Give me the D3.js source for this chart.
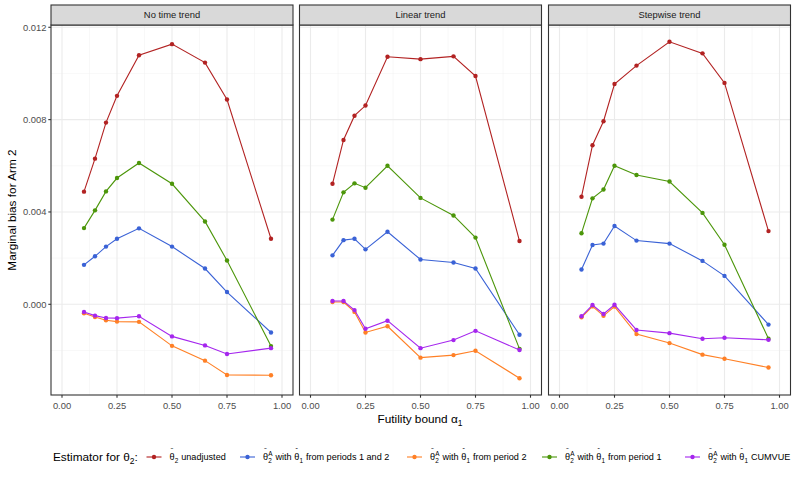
<!DOCTYPE html>
<html>
<head>
<meta charset="utf-8">
<script src="https://cdn.jsdelivr.net/npm/d3@7"></script>
<style>
  body { margin: 0; background: #fff; }
  text { font-family: "Liberation Sans", Arial, sans-serif; white-space: pre; }
</style>
</head>
<body>
<div id="chart"></div>
<script>
var width = 797, height = 478

// data
var alphas = [0.1, 0.15, 0.2, 0.25, 0.35, 0.5, 0.65, 0.75, 0.95]
var panels = ["No time trend", "Linear trend", "Stepwise trend"]
var estimators = ["unadj", "p12", "p2", "p1", "cumvue"]
var colors = ["#B22222", "#3A62D6", "#FF8026", "#4C960A", "#A526EE"]

// bias values, one array per panel and estimator
var unadj_none   = [0.00488, 0.00631, 0.00787, 0.00903, 0.01079, 0.01127, 0.01047, 0.00887, 0.00284]
var p12_none     = [0.00171, 0.00208, 0.00250, 0.00284, 0.00329, 0.00250, 0.00155, 0.00053, -0.00122]
var p2_none      = [-0.00039, -0.00055, -0.00069, -0.00075, -0.00076, -0.00180, -0.00244, -0.00306, -0.00307]
var p1_none      = [0.00330, 0.00407, 0.00489, 0.00547, 0.00612, 0.00522, 0.00359, 0.00190, -0.00181]
var cumvue_none  = [-0.00033, -0.00049, -0.00059, -0.00060, -0.00052, -0.00139, -0.00178, -0.00215, -0.00190]

var unadj_lin    = [0.00522, 0.00712, 0.00817, 0.00861, 0.01072, 0.01062, 0.01074, 0.00989, 0.00274]
var p12_lin      = [0.00212, 0.00278, 0.00284, 0.00238, 0.00314, 0.00194, 0.00181, 0.00155, -0.00132]
var p2_lin       = [0.00010, 0.00010, -0.00033, -0.00122, -0.00095, -0.00231, -0.00220, -0.00201, -0.00320]
var p1_lin       = [0.00367, 0.00485, 0.00524, 0.00505, 0.00600, 0.00461, 0.00385, 0.00289, -0.00193]
var cumvue_lin   = [0.00014, 0.00014, -0.00025, -0.00106, -0.00071, -0.00190, -0.00155, -0.00115, -0.00198]

var unadj_step   = [0.00466, 0.00689, 0.00793, 0.00954, 0.01034, 0.01137, 0.01087, 0.00959, 0.00317]
var p12_step     = [0.00151, 0.00257, 0.00263, 0.00339, 0.00276, 0.00263, 0.00188, 0.00123, -0.00088]
var p2_step      = [-0.00056, -0.00009, -0.00050, -0.00010, -0.00129, -0.00168, -0.00218, -0.00236, -0.00274]
var p1_step      = [0.00308, 0.00459, 0.00497, 0.00600, 0.00560, 0.00532, 0.00396, 0.00258, -0.00149]
var cumvue_step  = [-0.00052, -0.00003, -0.00042, -0.00002, -0.00111, -0.00125, -0.00149, -0.00145, -0.00154]

var series = [
    [unadj_none, p12_none, p2_none, p1_none, cumvue_none],
    [unadj_lin, p12_lin, p2_lin, p1_lin, cumvue_lin],
    [unadj_step, p12_step, p2_step, p1_step, cumvue_step]
]

var xTicks = [0, 0.25, 0.5, 0.75, 1]
var xMinor = [0.125, 0.375, 0.625, 0.875]
var yTicks = [0, 0.004, 0.008, 0.012]
var yMinor = [-0.002, 0.002, 0.006, 0.010]

var svg = d3.select("#chart").append("svg")
    .attr("width", width).attr("height", height)

var panelLeft = [51, 299.5, 548.5]
var panelW = 242
var pTop = 25, pBottom = 395
var tickFont = "9.4px", titleFont = "11.8px", legFont = "9.1px"

// y domain: data range with 5% expansion
var allVals = d3.merge(d3.merge(series))
var ymin = d3.min(allVals), ymax = d3.max(allVals)
var ypad = (ymax - ymin) * 0.05
var y = d3.scaleLinear().domain([ymin - ypad, ymax + ypad]).range([pBottom, pTop])

panels.forEach(function(name, pi) {
    var x0 = panelLeft[pi]
    var x = d3.scaleLinear().domain([-0.05, 1.05]).range([x0, x0 + panelW])
    var g = svg.append("g")

    // minor grid
    g.selectAll(".ymin").data(yMinor).enter().append("line")
        .attr("x1", x0).attr("x2", x0 + panelW)
        .attr("y1", d => y(d)).attr("y2", d => y(d))
        .style("stroke", "#F2F2F2").style("stroke-width", 0.55)
    g.selectAll(".xmin").data(xMinor).enter().append("line")
        .attr("y1", pTop).attr("y2", pBottom)
        .attr("x1", d => x(d)).attr("x2", d => x(d))
        .style("stroke", "#F2F2F2").style("stroke-width", 0.55)
    // major grid
    g.selectAll(".ymaj").data(yTicks).enter().append("line")
        .attr("x1", x0).attr("x2", x0 + panelW)
        .attr("y1", d => y(d)).attr("y2", d => y(d))
        .style("stroke", "#EBEBEB").style("stroke-width", 1.1)
    g.selectAll(".xmaj").data(xTicks).enter().append("line")
        .attr("y1", pTop).attr("y2", pBottom)
        .attr("x1", d => x(d)).attr("x2", d => x(d))
        .style("stroke", "#EBEBEB").style("stroke-width", 1.1)

    // lines and points
    series[pi].forEach(function(vals, si) {
        var pts = alphas.map((a, i) => [a, vals[i]])
        g.append("path")
            .datum(pts)
            .attr("d", d3.line().x(d => x(d[0])).y(d => y(d[1])))
            .style("fill", "none")
            .style("stroke", colors[si])
            .style("stroke-width", 1.1)
        g.selectAll(".pt" + si).data(pts).enter().append("circle")
            .attr("cx", d => x(d[0])).attr("cy", d => y(d[1]))
            .attr("r", 2.2)
            .style("fill", colors[si])
    })

    // panel border
    g.append("rect")
        .attr("x", x0).attr("y", pTop).attr("width", panelW).attr("height", pBottom - pTop)
        .style("fill", "none").style("stroke", "#333333").style("stroke-width", 1.1)

    // strip
    g.append("rect")
        .attr("x", x0).attr("y", 5).attr("width", panelW).attr("height", pTop - 5)
        .style("fill", "#D9D9D9").style("stroke", "#333333").style("stroke-width", 1.1)
    g.append("text")
        .attr("x", x0 + panelW / 2).attr("y", 15).attr("dy", "0.35em")
        .attr("text-anchor", "middle")
        .style("font-size", tickFont).style("fill", "#1A1A1A")
        .text(name)

    // x axis
    var xa = g.append("g").attr("transform", "translate(0," + pBottom + ")")
    xa.selectAll("line").data(xTicks).enter().append("line")
        .attr("x1", d => x(d)).attr("x2", d => x(d)).attr("y1", 0).attr("y2", 2.7)
        .style("stroke", "#333333").style("stroke-width", 1.1)
    xa.selectAll("text").data(xTicks).enter().append("text")
        .attr("x", d => x(d)).attr("y", 14.3)
        .attr("text-anchor", "middle")
        .style("font-size", tickFont).style("fill", "#4D4D4D")
        .text(d => d3.format(".2f")(d))

    // y axis on first panel only
    if (pi === 0) {
        var ya = g.append("g")
        ya.selectAll("line").data(yTicks).enter().append("line")
            .attr("x1", x0 - 2.7).attr("x2", x0).attr("y1", d => y(d)).attr("y2", d => y(d))
            .style("stroke", "#333333").style("stroke-width", 1.1)
        ya.selectAll("text").data(yTicks).enter().append("text")
            .attr("x", x0 - 4.5).attr("y", d => y(d)).attr("dy", "0.35em")
            .attr("text-anchor", "end")
            .style("font-size", tickFont).style("fill", "#4D4D4D")
            .text(d => d3.format(".3f")(d))
    }
})

// axis titles
svg.append("text")
    .attr("transform", "translate(16," + ((pTop + pBottom) / 2) + ") rotate(-90)")
    .attr("text-anchor", "middle")
    .style("font-size", titleFont).style("fill", "#000")
    .text("Marginal bias for Arm 2")

var xt = svg.append("text")
    .attr("x", 420).attr("y", 423)
    .attr("text-anchor", "middle")
    .style("font-size", titleFont).style("fill", "#000")
xt.append("tspan").text("Futility bound α")
xt.append("tspan").attr("dy", 3).style("font-size", "8.5px").text("1")

// legend
var legY = 457
var lg = svg.append("g")
var lt = lg.append("text")
    .attr("x", 53).attr("y", legY).attr("dy", "0.35em")
    .style("font-size", titleFont)
lt.append("tspan").text("Estimator for θ")
lt.append("tspan").attr("dy", 3).style("font-size", "8.5px").text("2")
lt.append("tspan").attr("dy", -3).text(":")

var legKeyX = [146.5, 240, 407, 542, 685]
// parts: [text, kind] where kind = t (plain), sub, supsub, tilde, hat
var legLabels = [
    [["θ", "tilde"], ["2", "sub"], [" unadjusted", "t"]],
    [["θ", "tilde"], ["2A", "supsub"], [" with ", "t"], ["θ", "hat"], ["1", "sub"], [" from periods 1 and 2", "t"]],
    [["θ", "tilde"], ["2A", "supsub"], [" with ", "t"], ["θ", "hat"], ["1", "sub"], [" from period 2", "t"]],
    [["θ", "tilde"], ["2A", "supsub"], [" with ", "t"], ["θ", "hat"], ["1", "sub"], [" from period 1", "t"]],
    [["θ", "tilde"], ["2A", "supsub"], [" with ", "t"], ["θ", "hat"], ["1", "sub"], [" CUMVUE", "t"]]
]

legLabels.forEach(function(parts, i) {
    var kx = legKeyX[i]
    lg.append("line")
        .attr("x1", kx).attr("x2", kx + 15).attr("y1", legY).attr("y2", legY)
        .style("stroke", colors[i]).style("stroke-width", 1.1)
    lg.append("circle").attr("cx", kx + 7.5).attr("cy", legY).attr("r", 2.2)
        .style("fill", colors[i])
    var cx = kx + 23
    parts.forEach(function(p) {
        var kind = p[1]
        if (kind === "t" || kind === "tilde" || kind === "hat") {
            var t = lg.append("text").attr("x", cx).attr("y", legY).attr("dy", "0.35em")
                .style("font-size", legFont).style("fill", "#000").text(p[0])
            var w = t.node().getComputedTextLength()
            if (kind !== "t") {
                lg.append("text").attr("x", cx + w / 2).attr("y", legY - 3.6)
                    .attr("text-anchor", "middle")
                    .style("font-size", "7px").text(kind === "tilde" ? "˜" : "ˆ")
            }
            cx += w
        } else if (kind === "sub") {
            var t2 = lg.append("text").attr("x", cx + 0.3).attr("y", legY + 5.8)
                .style("font-size", "6.4px").text(p[0])
            cx += t2.node().getComputedTextLength() + 0.6
        } else {
            var s = lg.append("text").attr("x", cx + 0.3).attr("y", legY + 5.8)
                .style("font-size", "6.4px").text(p[0][0])
            var a = lg.append("text").attr("x", cx + 0.3).attr("y", legY - 1)
                .style("font-size", "6.4px").text(p[0][1])
            cx += Math.max(s.node().getComputedTextLength(), a.node().getComputedTextLength()) + 0.6
        }
    })
})
</script>
</body>
</html>
